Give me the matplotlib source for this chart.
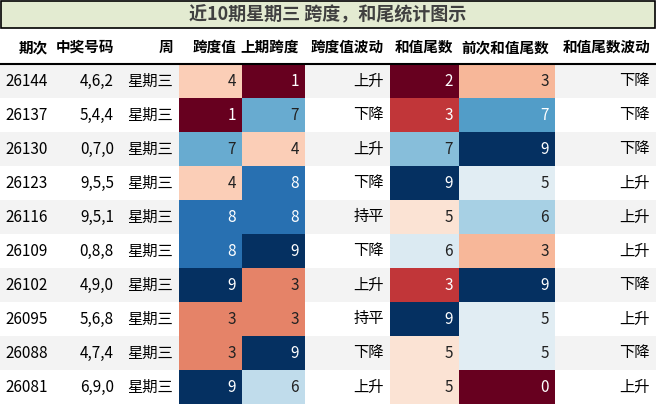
import numpy as np
import matplotlib.pyplot as plt
from matplotlib.patches import Rectangle
from matplotlib import cm, colors

plt.rcParams['font.family'] = ['Liberation Sans Narrow', 'Noto Sans CJK SC', 'DejaVu Sans']

title = '近10期星期三 跨度，和尾统计图示'
headers = ['期次', '中奖号码', '周', '跨度值', '上期跨度', '跨度值波动', '和值尾数', '前次和值尾数', '和值尾数波动']
qici = ['26144', '26137', '26130', '26123', '26116', '26109', '26102', '26095', '26088', '26081']
haoma = ['4,6,2', '5,4,4', '0,7,0', '9,5,5', '9,5,1', '0,8,8', '4,9,0', '5,6,8', '4,7,4', '6,9,0']
week = ['星期三'] * 10
kuadu = [4, 1, 7, 4, 8, 8, 9, 3, 3, 9]
prev_kuadu = [1, 7, 4, 8, 8, 9, 3, 3, 9, 6]
kd_trend = ['上升', '下降', '上升', '下降', '持平', '下降', '上升', '持平', '下降', '上升']
hewei = [2, 3, 7, 9, 5, 6, 3, 9, 5, 5]
prev_hewei = [3, 7, 9, 5, 6, 3, 9, 5, 5, 0]
hw_trend = ['下降', '下降', '下降', '上升', '上升', '上升', '下降', '上升', '下降', '上升']

cols = [qici, haoma, week, kuadu, prev_kuadu, kd_trend, hewei, prev_hewei, hw_trend]
heat = {3, 4, 6, 7}
edges = [0, 54, 120, 179, 242, 305, 390, 459, 555, 656]
W, H = 656, 405
top, hdr_h, row_h = 30, 34, 34

fig = plt.figure(figsize=(W / 100, H / 100), dpi=100)
ax = fig.add_axes([0, 0, 1, 1])
ax.set_xlim(0, W)
ax.set_ylim(H, 0)
ax.axis('off')

# title bar
ax.add_patch(Rectangle((1, 1), W - 2, 27, facecolor='#e3ebd1', edgecolor='black', lw=1.2))
ax.text(W / 2, 15, title, ha='center', va='center', fontsize=13, fontweight='bold',
        color='#404040', family=['Noto Sans CJK SC', 'DejaVu Sans'])

# header
for j, h in enumerate(headers):
    ax.text(edges[j + 1] - 6, top + hdr_h / 2, h, ha='right', va='center', fontsize=10.5,
            fontweight='bold', family=['Noto Sans CJK SC', 'DejaVu Sans'])
y0 = top + hdr_h
ax.plot([0, W], [y0, y0], color='black', lw=1.5)

cmap = plt.get_cmap('RdBu')
for i in range(len(qici)):
    y = y0 + i * row_h
    if i % 2 == 0:
        ax.add_patch(Rectangle((0, y), W, row_h, facecolor='#f3f3f3', edgecolor='none'))
    for j, col in enumerate(cols):
        v = col[i]
        tc = 'black'
        if j in heat:
            norm = colors.Normalize(min(col), max(col))
            c = cmap(norm(v))
            ax.add_patch(Rectangle((edges[j], y), edges[j + 1] - edges[j], row_h,
                                   facecolor=c, edgecolor='none'))
            lum = 0.299 * c[0] + 0.587 * c[1] + 0.114 * c[2]
            tc = 'white' if lum < 0.6 else '#222222'
        ax.text(edges[j + 1] - 6, y + row_h / 2, str(v), ha='right', va='center',
                fontsize=11, color=tc)

fig.savefig('out.png', dpi=100)
